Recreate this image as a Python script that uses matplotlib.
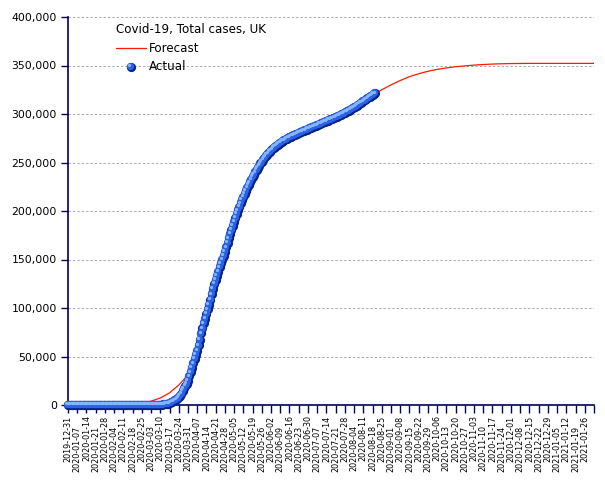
import numpy as np
import pandas as pd
import matplotlib
matplotlib.use("Agg")
import matplotlib.pyplot as plt
import matplotlib.dates as mdates
from matplotlib.lines import Line2D
from matplotlib.ticker import FuncFormatter
from matplotlib.transforms import offset_copy

# ---------------- data ----------------
chart_title = "Covid-19, Total cases, UK"
series_names = ["Forecast", "Actual"]

actual_start = "2019-12-31"
actual_dec_jan = [0, 0, 0, 0, 0, 0, 0, 0, 0, 0, 0, 0, 0, 0, 0, 0,
                  0, 0, 0, 0, 0, 0, 0, 0, 0, 0, 0, 0, 0, 0, 0, 2]
actual_feb = [2, 2, 2, 2, 2, 2, 2, 3, 3, 8, 8, 8, 9, 9, 9, 9, 9, 9, 9, 9,
              9, 9, 9, 13, 13, 13, 15, 20, 23]
actual_mar = [36, 40, 51, 85, 115, 163, 206, 273, 321, 383, 460, 594, 798,
              1140, 1391, 1543, 1950, 2626, 3269, 3983, 5018, 5683, 6650,
              8077, 9529, 11658, 14543, 17089, 19522, 22141, 25150]
actual_apr = [29474, 33718, 38168, 42900, 47806, 51608, 56000, 61500, 67500,
              73758, 78991, 84279, 88621, 93873, 98476, 103093, 108692,
              114217, 119800, 124700, 129000, 133300, 137600, 142000,
              146000, 149800, 153600, 158000, 162500, 167000]
actual_may = [172000, 176500, 180800, 185000, 189000, 193000, 197000, 200800,
              204500, 208000, 211400, 214700, 217900, 221000, 224000, 226900,
              229700, 232400, 235000, 237500, 240000, 242400, 244700, 246900,
              249000, 251000, 252900, 254700, 256400, 258000, 259600]
actual_jun = [261000, 262400, 263700, 265000, 266200, 267300, 268400, 269400,
              270400, 271300, 272200, 273000, 273800, 274600, 275300, 276000,
              276700, 277400, 278000, 278600, 279200, 279800, 280400, 281000,
              281600, 282200, 282800, 283400, 284000, 284600]
actual_jul = [285100, 285700, 286300, 286900, 287400, 287900, 288500, 289100,
              289700, 290300, 290900, 291500, 292000, 292600, 293200, 293800,
              294400, 295000, 295500, 296000, 296600, 297200, 297900, 298600,
              299300, 300000, 300600, 301300, 302000, 302800, 303600]
actual_aug = [304400, 305100, 305900, 306800, 307700, 308600, 309500, 310400,
              311300, 312200, 313100, 314000, 315000, 316100, 317100, 318000,
              318900, 319800, 320600, 321500]

forecast_start = "2020-01-28"
forecast_values = [200, 400, 700, 1200, 2100, 3900, 7200, 12500, 20500, 31000,
                   53000, 92000, 129000, 158000, 189000, 214700, 235000,
                   251000, 262400, 270400, 276000, 280400, 284600, 288500,
                   292600, 296600, 301300, 306800, 313100, 318900, 325000,
                   330000, 334500, 338500, 341500, 344000, 346000, 347500,
                   348700, 349600, 350400, 351000, 351500, 351800, 352000,
                   352100, 352200, 352200, 352200, 352200, 352200, 352200,
                   352200, 352200]

tick_start = "2019-12-31"
tick_end = "2021-02-02"
y_ticks = [0, 50000, 100000, 150000, 200000, 250000, 300000, 350000, 400000]

# ---------------- build ----------------
actual_values = (actual_dec_jan + actual_feb + actual_mar + actual_apr +
                 actual_may + actual_jun + actual_jul + actual_aug)
actual_dates = pd.date_range(actual_start, periods=len(actual_values), freq="D")
forecast_dates = pd.date_range(forecast_start, periods=len(forecast_values), freq="7D")
tick_dates = pd.date_range(tick_start, tick_end, freq="7D")
tick_labels = [d.strftime("%Y-%m-%d") for d in tick_dates[:-1]] + [""]

W, H, DPI = 605, 480, 100
fig = plt.figure(figsize=(W / DPI, H / DPI), dpi=DPI)
ax = fig.add_axes([68 / W, 1 - 405 / H, (594 - 68) / W, (405 - 17) / H])

NAVY = "#00005e"
RED = "#ff1a00"
DARK = "#0a2486"
MID = "#2a62e6"
LIGHT = "#86b4ff"


def spheres(axis, xs, ys, size, base_transform, z=5):
    axis.scatter(xs, ys, s=size, c=DARK, linewidths=0, zorder=z,
                 clip_on=False, transform=base_transform)
    axis.scatter(xs, ys, s=size * 0.62, c=MID, linewidths=0, zorder=z + 0.1,
                 clip_on=False,
                 transform=offset_copy(base_transform, fig=fig, x=-0.8, y=0.8, units="dots"))
    axis.scatter(xs, ys, s=size * 0.12, c=LIGHT, linewidths=0, zorder=z + 0.2,
                 clip_on=False,
                 transform=offset_copy(base_transform, fig=fig, x=-1.6, y=1.6, units="dots"))


ax.plot(forecast_dates, forecast_values, color=RED, linewidth=0.9, zorder=3,
        solid_joinstyle="round")
xnum = mdates.date2num(actual_dates)
spheres(ax, xnum, actual_values, 44, ax.transData)

ax.set_xlim(mdates.date2num(tick_dates[0]), mdates.date2num(tick_dates[-1]))
ax.set_ylim(0, 400000)
ax.set_yticks(y_ticks)
ax.yaxis.set_major_formatter(FuncFormatter(lambda v, p: f"{int(v):,}"))

major_idx = list(range(0, len(tick_dates), 2))
minor_idx = list(range(1, len(tick_dates), 2))
ax.set_xticks(mdates.date2num(tick_dates[major_idx]))
ax.set_xticklabels([tick_labels[i] for i in major_idx], rotation=90)
ax.set_xticks(mdates.date2num(tick_dates[minor_idx]), minor=True)
ax.set_xticklabels([tick_labels[i] for i in minor_idx], rotation=90, minor=True)

ax.tick_params(axis="x", which="major", length=6, width=1, color=NAVY,
               labelsize=5.8, pad=1.5, labelcolor="black")
ax.tick_params(axis="x", which="minor", length=6, width=1, color=NAVY,
               labelsize=5.8, pad=8.7, labelcolor="black")
ax.tick_params(axis="y", length=5, width=1, color=NAVY, labelsize=7.8,
               pad=3, labelcolor="black")

for side in ["top", "right"]:
    ax.spines[side].set_visible(False)
for side in ["left", "bottom"]:
    ax.spines[side].set_color(NAVY)
    ax.spines[side].set_linewidth(1.2)

ax.yaxis.grid(True, linestyle=(0, (2.5, 2)), color="#ababab", linewidth=0.7)
ax.set_axisbelow(True)

# legend (title + entries)
def fx(px):
    return px / W


def fy(py):
    return 1 - py / H


fig.text(fx(116), fy(29), chart_title, fontsize=8.6, va="center", ha="left")
fig.add_artist(Line2D([fx(116), fx(146)], [fy(48), fy(48)], color=RED,
                      linewidth=0.9, transform=fig.transFigure))
fig.text(fx(149), fy(48), series_names[0], fontsize=8.6, va="center", ha="left")
spheres(ax, [fx(131)], [fy(67)], 44, fig.transFigure, z=6)
fig.text(fx(149), fy(67), series_names[1], fontsize=8.6, va="center", ha="left")

fig.savefig("out.png", dpi=DPI)
